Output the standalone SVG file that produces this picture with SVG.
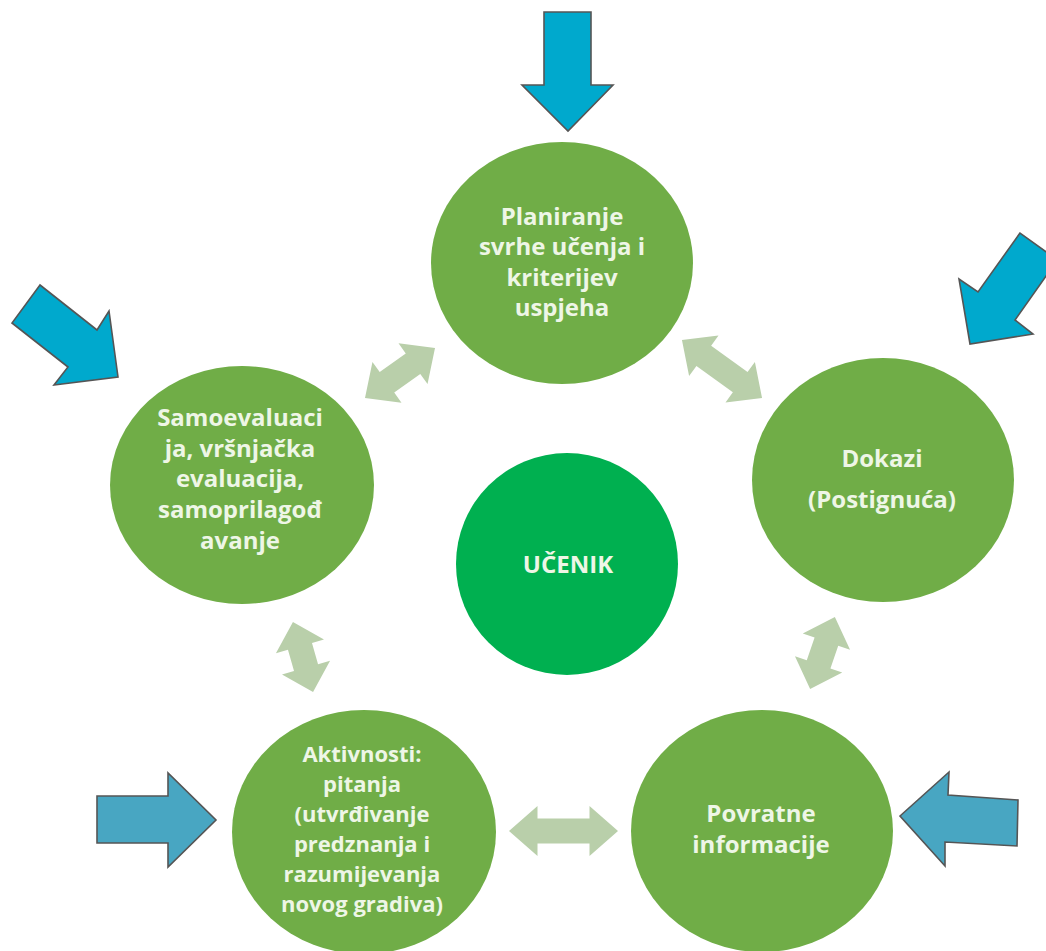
<svg xmlns="http://www.w3.org/2000/svg" width="1046" height="951" viewBox="0 0 1046 951">
<style>
.node{fill:#70ad47;}
.core{fill:#00b050;}
.lbl{font-family:"Open Sans","Liberation Sans",sans-serif;font-weight:bold;font-size:24px;fill:#eef6e6;text-anchor:middle;}
.sm{font-size:22px;}
.dbl{fill:#b9cfaa;}
.blue{fill:#00a9cd;stroke:#555555;stroke-width:1.6;stroke-linejoin:miter;}
.blue2{fill:#48a6c2;stroke:#555555;stroke-width:1.6;stroke-linejoin:miter;}
</style>
<rect width="1046" height="951" fill="#ffffff"/>
<g id="connectors">
<polygon class="dbl" transform="translate(400,373) rotate(-35.5)" points="-43,0 -16,-25 -16,-12.5 16,-12.5 16,-25 43,0 16,25 16,12.5 -16,12.5 -16,25"/>
<polygon class="dbl" transform="translate(722,369) rotate(36)" points="-49.5,0 -22.5,-25 -22.5,-12.5 22.5,-12.5 22.5,-25 49.5,0 22.5,25 22.5,12.5 -22.5,12.5 -22.5,25"/>
<polygon class="dbl" transform="translate(822.5,653) rotate(109)" points="-38,0 -12,-25 -12,-12.5 12,-12.5 12,-25 38,0 12,25 12,12.5 -12,12.5 -12,25"/>
<polygon class="dbl" transform="translate(563.5,831)" points="-54.5,0 -26,-25 -26,-12.5 26,-12.5 26,-25 54.5,0 26,25 26,12.5 -26,12.5 -26,25"/>
<polygon class="dbl" transform="translate(303,657) rotate(74)" points="-36.5,0 -11,-25 -11,-12.5 11,-12.5 11,-25 36.5,0 11,25 11,12.5 -11,12.5 -11,25"/>
<polygon class="blue" points="544,12 591,12 591,85 613,85 568,131 522,85 544,85"/>
<polygon class="blue" points="1020,233 978,292 959,279 970,344 1033,334 1015,320 1057.5,260"/>
<polygon class="blue" points="40,285 12,323 68,367 54,385 118,377 109,311 97,330"/>
<polygon class="blue2" points="97,796 168,796 168,773 216,820 168,867 168,843 97,843"/>
<polygon class="blue2" points="900,816 949,772 948,795 1018,800 1017,846 945,842 945,866"/>
</g>
<g id="node-plan">
<ellipse class="node" cx="562" cy="263" rx="131" ry="121"/>
<text class="lbl" x="562" y="225">Planiranje</text>
<text class="lbl" x="562" y="255">svrhe učenja i</text>
<text class="lbl" x="562" y="286">kriterijev</text>
<text class="lbl" x="562" y="316">uspjeha</text>
</g>
<g id="node-dokazi">
<ellipse class="node" cx="883" cy="480" rx="131" ry="122"/>
<text class="lbl" x="882" y="467">Dokazi</text>
<text class="lbl" x="882" y="508">(Postignuća)</text>
</g>
<g id="node-samo">
<ellipse class="node" cx="242" cy="485" rx="132" ry="119"/>
<text class="lbl" x="240" y="426">Samoevaluaci</text>
<text class="lbl" x="240" y="457">ja, vršnjačka</text>
<text class="lbl" x="240" y="487">evaluacija,</text>
<text class="lbl" x="240" y="518">samoprilagođ</text>
<text class="lbl" x="240" y="549">avanje</text>
</g>
<g id="node-aktiv">
<ellipse class="node" cx="364" cy="832" rx="132" ry="122"/>
<text class="lbl sm" x="362" y="762">Aktivnosti:</text>
<text class="lbl sm" x="362" y="792">pitanja</text>
<text class="lbl sm" x="362" y="822">(utvrđivanje</text>
<text class="lbl sm" x="362" y="852">predznanja i</text>
<text class="lbl sm" x="362" y="882">razumijevanja</text>
<text class="lbl sm" x="362" y="912">novog gradiva)</text>
</g>
<g id="node-povrat">
<ellipse class="node" cx="762" cy="831" rx="131" ry="121"/>
<text class="lbl" x="761" y="822">Povratne</text>
<text class="lbl" x="761" y="853">informacije</text>
</g>
<g id="node-ucenik">
<circle class="core" cx="567" cy="564" r="111"/>
<text class="lbl" x="568" y="573">UČENIK</text>
</g>
</svg>
